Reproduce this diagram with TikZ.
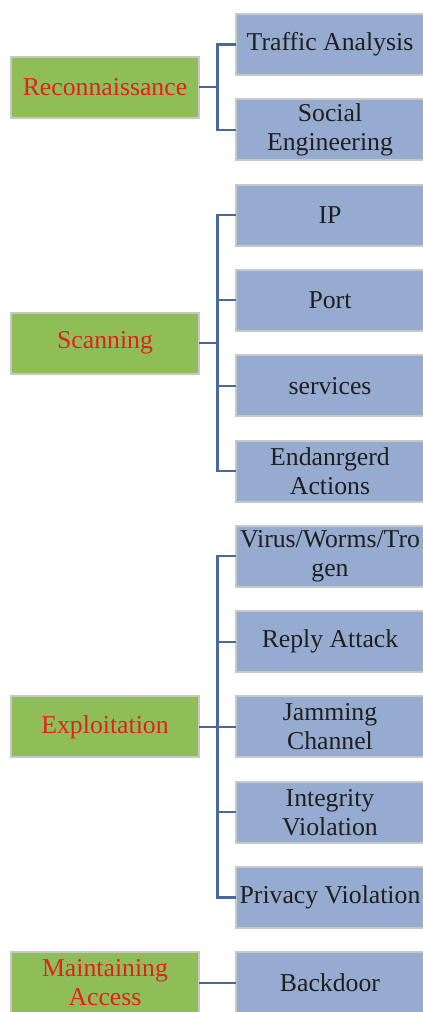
\documentclass[tikz,border=0pt]{standalone}
\usepackage{fontspec}
\setmainfont{Liberation Serif}
\usepackage{xcolor}
\usetikzlibrary{positioning,calc}

\definecolor{phasegreen}{RGB}{143,190,88}
\definecolor{leafblue}{RGB}{149,171,207}
\definecolor{phasered}{RGB}{228,32,28}
\definecolor{linkblue}{RGB}{74,104,160}
\definecolor{edgegray}{RGB}{200,200,200}

\begin{document}
\begin{tikzpicture}[
    phase/.style={draw=edgegray, line width=1.5pt, fill=phasegreen, outer sep=0pt, inner sep=1pt,
        minimum width=141pt, minimum height=45.75pt, align=center, text=phasered,
        font=\fontsize{19.3}{21.75}\selectfont},
    leaf/.style={draw=edgegray, line width=1.5pt, fill=leafblue, outer sep=0pt, inner sep=1pt,
        minimum width=141pt, minimum height=45.75pt, align=center, text=black!88,
        font=\fontsize{19.3}{21.75}\selectfont},
    link/.style={draw=linkblue, line width=1.6pt}
]
\clip (0,0) rectangle (317.25pt,-759pt);

\node[leaf, anchor=north west] (traffic) at (177pt,-10.5pt) {Traffic Analysis};
\node[leaf, below=18.225pt of traffic] (social) {Social\\Engineering};
\node[leaf, below=18.225pt of social] (ip) {IP};
\node[leaf, below=18.225pt of ip] (port) {Port};
\node[leaf, below=18.225pt of port] (services) {services};
\node[leaf, below=18.225pt of services] (endanger) {Endanrgerd\\Actions};
\node[leaf, below=18.225pt of endanger] (virus) {Virus/Worms/Tro\\gen};
\node[leaf, below=18.225pt of virus] (reply) {Reply Attack};
\node[leaf, below=18.225pt of reply] (jamming) {Jamming\\Channel};
\node[leaf, below=18.225pt of jamming] (integrity) {Integrity\\Violation};
\node[leaf, below=18.225pt of integrity] (privacy) {Privacy Violation};
\node[leaf, below=18.225pt of privacy] (backdoor) {Backdoor};

\coordinate (reconmid) at ($(traffic.west)!0.5!(social.west)$);
\coordinate (scanmid) at ($(ip.west)!0.5!(endanger.west)$);
\coordinate (exploitmid) at ($(virus.west)!0.5!(privacy.west)$);

\node[phase, left=27.75pt of reconmid] (recon) {Reconnaissance};
\node[phase, left=27.75pt of scanmid] (scan) {Scanning};
\node[phase, left=27.75pt of exploitmid] (exploit) {Exploitation};
\node[phase, left=27.75pt of backdoor.west] (maintain) {Maintaining\\Access};

\draw[link] (recon.east) -- ++(13.9pt,0) |- (traffic.west);
\draw[link] (recon.east) -- ++(13.9pt,0) |- (social.west);

\draw[link] (scan.east) -- ++(13.9pt,0) |- (ip.west);
\draw[link] (scan.east) -- ++(13.9pt,0) |- (port.west);
\draw[link] (scan.east) -- ++(13.9pt,0) |- (services.west);
\draw[link] (scan.east) -- ++(13.9pt,0) |- (endanger.west);

\draw[link] (exploit.east) -- ++(13.9pt,0) |- (virus.west);
\draw[link] (exploit.east) -- ++(13.9pt,0) |- (reply.west);
\draw[link] (exploit.east) -- ++(13.9pt,0) |- (jamming.west);
\draw[link] (exploit.east) -- ++(13.9pt,0) |- (integrity.west);
\draw[link] (exploit.east) -- ++(13.9pt,0) |- (privacy.west);

\draw[link] (maintain.east) -- (backdoor.west);
\end{tikzpicture}
\end{document}
